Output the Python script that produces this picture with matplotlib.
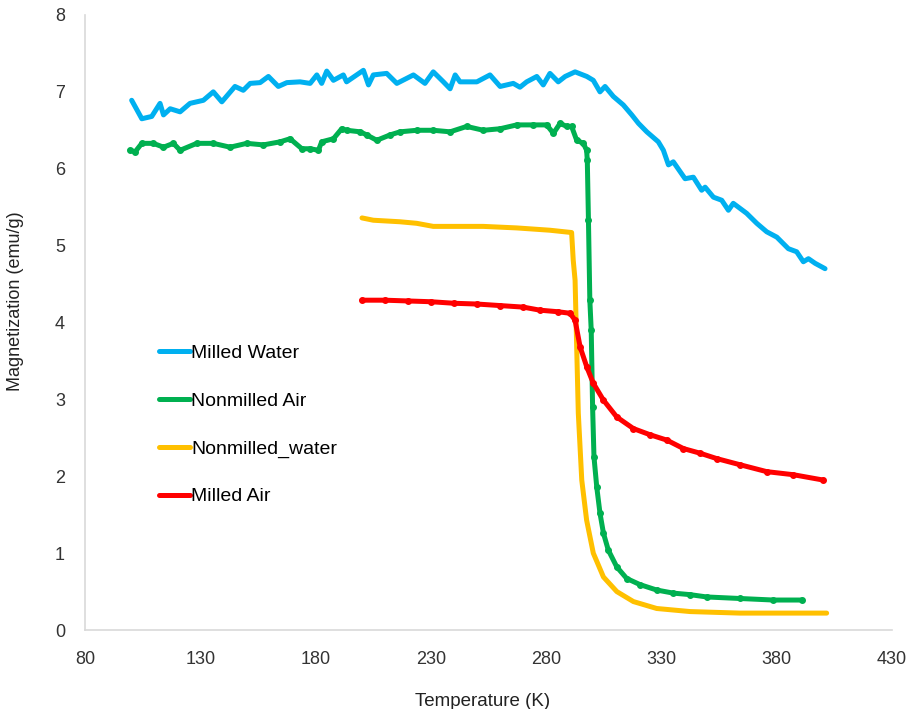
import matplotlib
matplotlib.use('Agg')
import matplotlib.pyplot as plt

plt.rcParams['font.family'] = ['Liberation Sans', 'DejaVu Sans']

# Milled Water
t_mw = [100.2, 104.6, 108.9, 112.5, 114.0, 116.9, 121.2, 125.5, 131.3, 135.6, 139.3, 145.0, 148.6,
        151.6, 155.9, 159.5, 163.8, 167.5, 173.2, 177.6, 180.5, 182.6, 184.8, 187.7, 192.0, 193.4,
        200.7, 202.9, 205.0, 210.8, 215.2, 222.4, 227.4, 231.0, 235.4, 238.3, 240.5, 242.6, 249.9,
        255.6, 260.0, 265.7, 268.6, 271.5, 275.9, 278.7, 281.6, 285.2, 288.2, 292.5, 297.6, 300.4,
        303.3, 305.5, 309.1, 313.4, 317.1, 320.0, 323.6, 328.6, 330.8, 333.0, 335.1, 340.2, 343.8,
        347.4, 348.9, 352.5, 356.1, 359.0, 361.1, 366.9, 371.3, 375.6, 380.0, 385.0, 388.6, 391.5,
        393.7, 396.6, 400.9]
m_mw = [6.89, 6.65, 6.68, 6.85, 6.70, 6.78, 6.74, 6.85, 6.89, 7.00, 6.87, 7.07, 7.02,
        7.11, 7.12, 7.20, 7.07, 7.12, 7.13, 7.11, 7.22, 7.11, 7.27, 7.15, 7.22, 7.13,
        7.28, 7.09, 7.22, 7.24, 7.11, 7.22, 7.11, 7.26, 7.13, 7.04, 7.22, 7.13, 7.13,
        7.22, 7.07, 7.11, 7.06, 7.13, 7.20, 7.09, 7.24, 7.13, 7.20, 7.26, 7.20, 7.15,
        7.00, 7.07, 6.94, 6.83, 6.70, 6.59, 6.48, 6.35, 6.24, 6.05, 6.09, 5.87, 5.89,
        5.72, 5.76, 5.63, 5.59, 5.46, 5.55, 5.42, 5.29, 5.18, 5.11, 4.96, 4.92, 4.79,
        4.83, 4.77, 4.70]

# Nonmilled Air
t_na = [99.5, 101.7, 104.6, 109.6, 114.0, 118.3, 121.2, 128.4, 135.6, 142.9, 150.1, 157.3, 164.6,
        168.9, 174.0, 177.6, 181.2, 182.6, 187.7, 191.3, 193.5, 199.3, 202.1, 206.5, 212.3, 216.6,
        223.8, 231.0, 238.3, 245.5, 252.7, 260.0, 267.2, 274.4, 280.2, 283.1, 286.0, 288.9, 291.0,
        293.2, 296.1, 297.5, 297.8, 298.3, 298.9, 299.5, 300.1, 300.7, 301.9, 303.3, 304.8,
        306.9, 310.6, 314.9, 320.7, 327.9, 335.1, 342.4, 349.6, 364.0, 378.5, 390.8]
m_na = [6.24, 6.22, 6.33, 6.33, 6.28, 6.33, 6.24, 6.33, 6.33, 6.28, 6.33, 6.31, 6.35,
        6.39, 6.26, 6.26, 6.24, 6.35, 6.39, 6.52, 6.50, 6.48, 6.44, 6.37, 6.44, 6.48,
        6.50, 6.50, 6.48, 6.55, 6.50, 6.52, 6.57, 6.57, 6.57, 6.46, 6.59, 6.55, 6.55,
        6.37, 6.33, 6.24, 6.11, 5.33, 4.29, 3.90, 2.90, 2.25, 1.86, 1.52, 1.26,
        1.04, 0.82, 0.67, 0.59, 0.52, 0.48, 0.46, 0.43, 0.41, 0.39, 0.39]

# Nonmilled_water
t_nw = [200.1, 205.0, 216.6, 223.8, 231.0, 241.2, 252.7, 267.2, 281.6, 291.0, 291.7, 292.5,
        293.2, 293.9, 295.4, 297.5, 300.4, 304.8, 310.6, 317.8, 327.9, 342.4, 364.0, 401.6]
m_nw = [5.36, 5.33, 5.31, 5.29, 5.25, 5.25, 5.25, 5.23, 5.20, 5.17, 4.81, 4.55,
        3.68, 2.82, 1.95, 1.43, 1.00, 0.69, 0.50, 0.37, 0.28, 0.24, 0.22, 0.22]

# Milled Air
t_ma = [200.1, 210.0, 220.0, 230.0, 240.0, 250.0, 260.0, 270.0, 277.3, 285.0, 290.3, 292.5,
        294.7, 297.6, 300.4, 304.8, 310.6, 317.8, 325.0, 332.3, 339.5, 346.7, 353.9, 364.0,
        375.6, 387.2, 400.2]
m_ma = [4.29, 4.29, 4.28, 4.27, 4.25, 4.24, 4.22, 4.20, 4.16, 4.14, 4.12, 4.03,
        3.68, 3.42, 3.21, 2.99, 2.77, 2.62, 2.54, 2.47, 2.36, 2.30, 2.23, 2.15,
        2.06, 2.02, 1.95]

fig = plt.figure(figsize=(9.15, 7.09), dpi=100)
ax = fig.add_axes([0.093, 0.1114, 0.882, 0.8675])

ax.plot(t_mw, m_mw, color='#00b0f0', lw=3.6, solid_capstyle='round', solid_joinstyle='round',
        label='Milled Water')
ax.plot(t_na, m_na, color='#00b050', lw=3.6, marker='o', ms=4, solid_capstyle='round',
        solid_joinstyle='round', label='Nonmilled Air')
ax.plot(t_nw, m_nw, color='#ffc000', lw=3.6, solid_capstyle='round', solid_joinstyle='round',
        label='Nonmilled_water')
ax.plot(t_ma, m_ma, color='#ff0000', lw=3.6, marker='o', ms=4, solid_capstyle='round',
        solid_joinstyle='round', label='Milled Air')

ax.set_xlim(80, 430)
ax.set_ylim(0, 8)
ax.set_xticks(range(80, 431, 50))
ax.set_yticks(range(0, 9))

for s in ['top', 'right']:
    ax.spines[s].set_visible(False)
for s in ['left', 'bottom']:
    ax.spines[s].set_color('#d9d9d9')
    ax.spines[s].set_linewidth(1.2)

ax.tick_params(length=0, labelsize=13, colors='#333333')
ax.tick_params(axis='y', pad=14.5)
ax.tick_params(axis='x', pad=15)
ax.set_xlabel('Temperature (K)', fontsize=13.5, color='#222222')
ax.set_ylabel('Magnetization (emu/g)', fontsize=13, color='#222222')
ax.xaxis.set_label_coords(0.493, -0.102)
ax.yaxis.set_label_coords(-0.076, 0.535)

leg = ax.legend(loc='upper left', bbox_to_anchor=(0.07, 0.493), frameon=False,
                fontsize=14, handlelength=1.6, handletextpad=0.05, labelspacing=1.55)
for h in leg.legend_handles:
    h.set_marker('')

fig.savefig('out.png', dpi=100)
